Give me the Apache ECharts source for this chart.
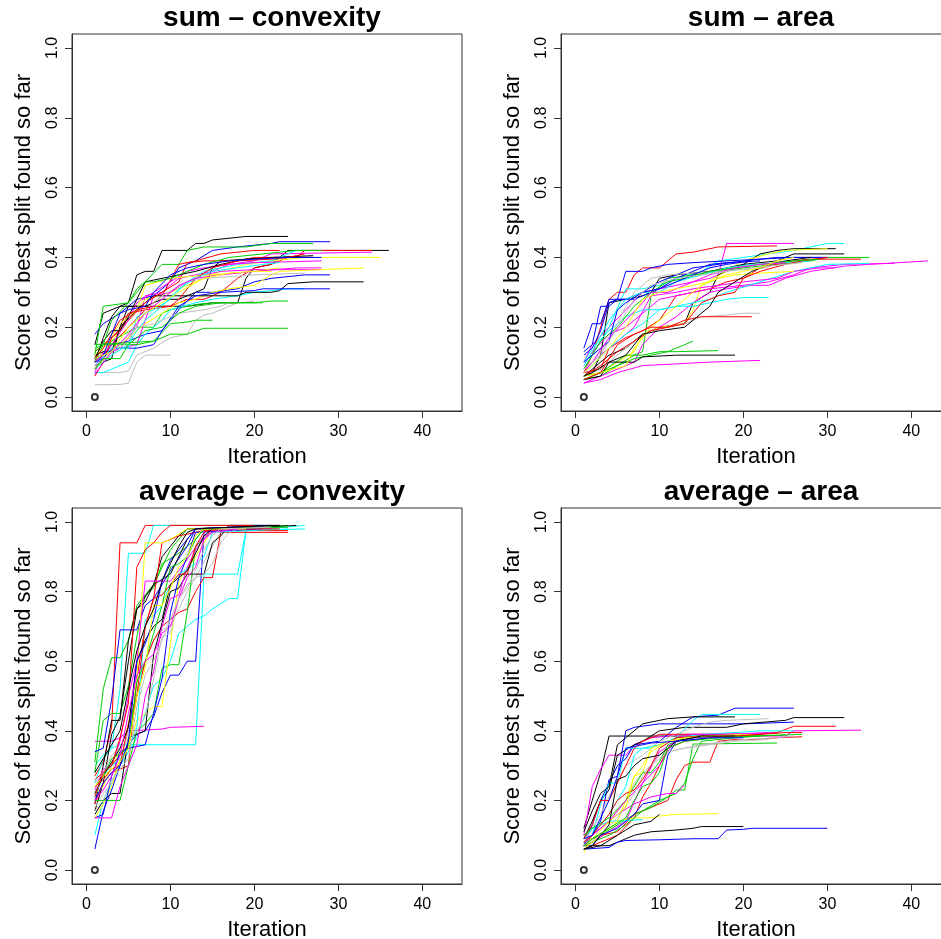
<!DOCTYPE html>
<html>
<head>
<meta charset="utf-8">
<script src="https://cdn.jsdelivr.net/npm/echarts@6/dist/echarts.min.js"></script>
<style>
html,body{margin:0;padding:0;background:#fff;}
#chart{width:941px;height:939px;}
</style>
</head>
<body>
<div id="chart"></div>
<script>
// ---------- Data (iteration, score) pairs at the vertices of each run ----------
const panelTitles = ["sum \u2013 convexity", "sum \u2013 area", "average \u2013 convexity", "average \u2013 area"];
const xTicks = [0, 10, 20, 30, 40];
const yTicks = [0, 0.2, 0.4, 0.6, 0.8, 1.0];
const startPoint = [1, 0];

const sumConvexityColors = "kbgkrmyakrgbcmyakrgbcmyakrgbcmyagg";
const sumConvexityRuns = [
  [1,0.15, 2,0.24, 5,0.27, 6,0.35, 7,0.36, 8,0.36, 9,0.42, 12,0.42, 13,0.44, 14,0.44, 15,0.45, 19,0.46, 24,0.46],
  [1,0.18, 2,0.21, 4,0.24, 6,0.28, 8,0.29, 10,0.33, 11,0.37, 13,0.39, 15,0.42, 18,0.43, 22,0.44, 23,0.445, 29,0.445],
  [1,0.12, 2,0.26, 5,0.27, 6,0.31, 7,0.33, 9,0.38, 11,0.38, 12,0.42, 14,0.43, 19,0.43, 22,0.44, 27,0.44],
  [1,0.09, 3,0.11, 4,0.2, 5,0.26, 9,0.26, 12,0.26, 15,0.27, 18,0.27, 19,0.34, 20,0.37, 22,0.38, 23,0.4, 24,0.42, 36,0.42],
  [1,0.08, 3,0.15, 5,0.2, 7,0.25, 10,0.26, 12,0.28, 14,0.28, 16,0.3, 18,0.34, 20,0.37, 22,0.38, 24,0.4, 25,0.4, 26,0.42, 34,0.42],
  [1,0.07, 2,0.13, 4,0.14, 6,0.2, 7,0.29, 9,0.3, 11,0.34, 15,0.36, 17,0.38, 20,0.39, 22,0.41, 34,0.415],
  [1,0.1, 3,0.16, 5,0.22, 7,0.28, 10,0.3, 13,0.33, 16,0.36, 19,0.38, 22,0.39, 26,0.4, 35,0.4],
  [1,0.07, 4,0.07, 5,0.075, 6,0.12, 8,0.14, 10,0.17, 12,0.18, 13,0.22, 14,0.235, 15,0.24, 17,0.26, 18,0.27, 20,0.275],
  [1,0.1, 2,0.17, 3,0.23, 4,0.26, 7,0.26, 9,0.28, 11,0.28, 13,0.3, 14,0.31, 15,0.37, 16,0.39, 22,0.4, 27,0.405],
  [1,0.13, 2,0.15, 4,0.19, 5,0.24, 7,0.25, 9,0.29, 11,0.38, 13,0.39, 16,0.41, 20,0.42, 23,0.42],
  [1,0.14, 3,0.16, 6,0.2, 8,0.2, 9,0.24, 10,0.25, 13,0.265, 15,0.27, 20,0.27, 22,0.275, 24,0.275],
  [1,0.1, 2,0.12, 3,0.15, 5,0.16, 7,0.18, 9,0.19, 11,0.25, 13,0.3, 15,0.3, 18,0.31, 20,0.33, 22,0.34, 26,0.35, 29,0.35],
  [1,0.07, 2,0.07, 3,0.08, 5,0.1, 6,0.15, 7,0.18, 8,0.2, 9,0.22, 10,0.25, 13,0.27, 15,0.28, 18,0.29, 20,0.3, 24,0.31, 26,0.31],
  [1,0.09, 2,0.12, 4,0.14, 6,0.15, 7,0.22, 8,0.29, 10,0.3, 12,0.33, 14,0.35, 16,0.36, 20,0.365, 28,0.365],
  [1,0.08, 3,0.13, 5,0.17, 7,0.21, 9,0.24, 11,0.27, 13,0.28, 15,0.3, 17,0.31, 20,0.32, 22,0.35, 23,0.36, 33,0.37],
  [1,0.035, 4,0.036, 5,0.04, 6,0.1, 7,0.12, 10,0.12],
  [1,0.12, 2,0.13, 3,0.13, 4,0.2, 6,0.25, 8,0.29, 18,0.29, 19,0.3, 22,0.3, 23,0.305, 24,0.325, 27,0.33, 33,0.33],
  [1,0.06, 2,0.1, 3,0.17, 5,0.22, 7,0.27, 9,0.3, 11,0.33, 12,0.385, 14,0.39, 18,0.39, 20,0.4, 24,0.4, 26,0.41],
  [1,0.1, 2,0.15, 6,0.15, 8,0.16, 10,0.21, 12,0.215, 13,0.22, 15,0.22],
  [1,0.1, 2,0.11, 3,0.14, 6,0.14, 8,0.15, 9,0.19, 11,0.26, 13,0.29, 16,0.3, 20,0.305, 21,0.31, 29,0.31],
  [1,0.09, 3,0.14, 5,0.14, 6,0.23, 8,0.25, 10,0.28, 12,0.33, 14,0.36, 16,0.37, 18,0.38, 22,0.39, 25,0.42, 26,0.42],
  [1,0.1, 3,0.15, 5,0.22, 6,0.27, 8,0.3, 10,0.33, 12,0.36, 14,0.37, 17,0.38, 20,0.385, 28,0.39],
  [1,0.12, 2,0.14, 4,0.21, 6,0.25, 7,0.32, 10,0.34, 12,0.345, 15,0.35, 20,0.36, 23,0.37],
  [1,0.09, 3,0.12, 5,0.16, 7,0.25, 9,0.29, 12,0.33, 14,0.34, 17,0.345, 20,0.35, 26,0.355],
  [1,0.11, 2,0.16, 3,0.19, 4,0.19, 5,0.23, 7,0.33, 9,0.34, 11,0.35, 13,0.36, 16,0.38, 19,0.395, 23,0.4, 27,0.4],
  [1,0.11, 2,0.14, 4,0.22, 6,0.25, 8,0.26, 10,0.26, 11,0.28, 13,0.34, 15,0.37, 18,0.39, 22,0.395, 24,0.4],
  [1,0.13, 2,0.15, 3,0.22, 5,0.27, 7,0.33, 8,0.33, 10,0.34, 12,0.36, 14,0.38, 17,0.4, 21,0.41, 25,0.42, 28,0.42],
  [1,0.11, 2,0.12, 4,0.24, 5,0.25, 7,0.26, 8,0.3, 10,0.35, 12,0.37, 14,0.38, 17,0.39, 20,0.395, 24,0.4, 28,0.4],
  [1,0.08, 3,0.12, 5,0.15, 6,0.19, 7,0.22, 9,0.26, 11,0.31, 13,0.34, 15,0.36, 18,0.37, 21,0.38, 23,0.385],
  [1,0.065, 3,0.13, 5,0.18, 7,0.24, 9,0.28, 11,0.32, 13,0.34, 16,0.35, 20,0.36, 25,0.37, 28,0.37],
  [1,0.11, 3,0.13, 5,0.2, 7,0.24, 9,0.27, 11,0.3, 14,0.34, 17,0.355, 20,0.36, 22,0.36],
  [1,0.08, 2,0.11, 4,0.15, 6,0.2, 8,0.21, 9,0.22, 11,0.24, 14,0.25, 16,0.26, 17,0.27],
  [1,0.08, 2,0.11, 4,0.11, 5,0.15, 7,0.19, 9,0.2, 11,0.24, 13,0.26, 16,0.27, 21,0.27],
  [1,0.15, 8,0.16, 10,0.18, 12,0.18, 14,0.197, 24,0.197]
];

const sumAreaColors = "mrckykgrbmmcmcarggkmbbyackrgbmay";
const sumAreaRuns = [
  [1,0.1, 2,0.15, 4,0.2, 6,0.25, 8,0.3, 10,0.31, 12,0.32, 14,0.33, 16,0.34, 17,0.35, 18,0.44, 26,0.44],
  [1,0.07, 2,0.12, 4,0.28, 5,0.3, 6,0.3, 7,0.35, 8,0.37, 10,0.37, 12,0.41, 14,0.415, 15,0.42, 17,0.43, 24,0.433],
  [1,0.08, 2,0.12, 4,0.2, 6,0.31, 8,0.31, 10,0.32, 12,0.34, 15,0.36, 17,0.39, 20,0.4, 23,0.41, 26,0.42, 28,0.43, 30,0.44, 32,0.44],
  [1,0.06, 2,0.08, 4,0.12, 6,0.14, 8,0.18, 10,0.2, 13,0.21, 14,0.27, 16,0.3, 17,0.35, 18,0.36, 20,0.38, 22,0.41, 24,0.42, 26,0.425, 31,0.425],
  [1,0.05, 3,0.07, 5,0.1, 7,0.13, 8,0.18, 10,0.2, 13,0.21, 14,0.25, 15,0.32, 18,0.36, 20,0.39, 23,0.41, 25,0.42, 30,0.425],
  [1,0.06, 2,0.07, 3,0.12, 4,0.27, 6,0.28, 8,0.29, 9,0.3, 10,0.34, 12,0.35, 16,0.36, 20,0.38, 24,0.39, 26,0.41, 32,0.41],
  [1,0.05, 3,0.06, 5,0.09, 7,0.12, 8,0.13, 9,0.29, 11,0.34, 14,0.35, 17,0.36, 20,0.37, 24,0.38, 28,0.39, 30,0.4, 35,0.4],
  [1,0.07, 3,0.08, 4,0.14, 6,0.17, 8,0.19, 10,0.22, 12,0.29, 14,0.3, 16,0.31, 18,0.33, 20,0.34, 22,0.37, 24,0.38, 26,0.39, 28,0.395, 34,0.395],
  [1,0.14, 2,0.21, 3,0.21, 4,0.28, 6,0.28, 7,0.29, 8,0.3, 10,0.33, 12,0.35, 14,0.37, 17,0.38, 20,0.39, 24,0.4, 30,0.4],
  [1,0.04, 3,0.06, 5,0.08, 7,0.1, 8,0.15, 10,0.2, 12,0.23, 14,0.27, 16,0.3, 18,0.31, 21,0.32, 23,0.32, 25,0.34, 28,0.36, 32,0.375, 35,0.38, 42,0.39],
  [1,0.09, 2,0.13, 4,0.18, 6,0.2, 8,0.24, 10,0.28, 12,0.29, 14,0.3, 16,0.31, 20,0.32, 23,0.33, 26,0.35, 28,0.37, 32,0.38, 38,0.383],
  [1,0.1, 2,0.14, 4,0.19, 6,0.23, 8,0.25, 10,0.25, 12,0.26, 14,0.27, 16,0.28, 18,0.3, 22,0.33, 26,0.36, 28,0.37, 30,0.38, 35,0.383],
  [1,0.08, 3,0.12, 5,0.16, 7,0.2, 9,0.29, 12,0.3, 14,0.31, 17,0.32, 20,0.33, 24,0.34, 26,0.36, 29,0.37, 31,0.37],
  [1,0.07, 2,0.09, 4,0.14, 6,0.18, 8,0.21, 10,0.25, 12,0.26, 14,0.26, 16,0.27, 18,0.28, 20,0.285, 23,0.285],
  [1,0.06, 3,0.08, 5,0.12, 7,0.16, 9,0.19, 11,0.2, 13,0.21, 15,0.23, 18,0.235, 20,0.24, 22,0.24],
  [1,0.06, 3,0.09, 5,0.13, 7,0.16, 9,0.19, 11,0.2, 13,0.22, 15,0.23, 21,0.23],
  [1,0.05, 3,0.07, 5,0.09, 7,0.11, 9,0.12, 11,0.13, 13,0.15, 14,0.16],
  [1,0.06, 3,0.07, 6,0.12, 8,0.12, 10,0.13, 12,0.13, 17,0.133],
  [1,0.05, 3,0.06, 4,0.1, 7,0.1, 8,0.115, 12,0.12, 19,0.12],
  [1,0.04, 3,0.05, 5,0.07, 8,0.09, 12,0.095, 16,0.1, 22,0.105],
  [1,0.13, 2,0.15, 3,0.26, 4,0.26, 5,0.28, 6,0.36, 8,0.36, 9,0.37, 11,0.38, 14,0.385, 18,0.39, 22,0.395, 26,0.4, 30,0.4],
  [1,0.12, 2,0.14, 3,0.19, 4,0.27, 5,0.28, 7,0.28, 8,0.29, 10,0.31, 12,0.34, 14,0.36, 16,0.38, 18,0.385, 22,0.39],
  [1,0.06, 3,0.07, 6,0.09, 7,0.14, 9,0.2, 11,0.24, 13,0.28, 15,0.32, 17,0.34, 19,0.35, 22,0.355, 26,0.36],
  [1,0.07, 2,0.1, 4,0.16, 6,0.26, 7,0.3, 9,0.34, 11,0.35, 14,0.355, 17,0.36, 20,0.365, 23,0.37],
  [1,0.09, 2,0.13, 4,0.22, 6,0.28, 8,0.3, 10,0.3, 12,0.33, 15,0.35, 18,0.37, 21,0.38, 25,0.385, 28,0.39],
  [1,0.06, 2,0.07, 4,0.1, 6,0.12, 8,0.18, 10,0.19, 13,0.2, 14,0.22, 16,0.26, 17,0.3, 19,0.33, 21,0.36, 23,0.38, 25,0.39, 28,0.4],
  [1,0.05, 3,0.07, 5,0.15, 7,0.18, 9,0.2, 11,0.2, 13,0.21, 15,0.27, 17,0.29, 19,0.3, 20,0.34, 22,0.36, 25,0.38, 27,0.39, 30,0.4],
  [1,0.08, 3,0.16, 5,0.2, 7,0.26, 9,0.3, 11,0.33, 13,0.34, 16,0.36, 19,0.37, 22,0.38, 26,0.39, 29,0.395],
  [1,0.1, 2,0.12, 4,0.16, 5,0.25, 6,0.27, 8,0.3, 10,0.31, 12,0.33, 14,0.35, 16,0.37, 18,0.38, 21,0.39],
  [1,0.07, 2,0.1, 4,0.17, 6,0.22, 8,0.27, 9,0.3, 11,0.3, 13,0.32, 16,0.35, 19,0.37, 22,0.38, 25,0.385],
  [1,0.08, 3,0.12, 5,0.2, 7,0.28, 9,0.32, 12,0.34, 15,0.35, 18,0.36, 21,0.37, 25,0.38, 27,0.385],
  [1,0.07, 2,0.09, 4,0.14, 6,0.2, 8,0.28, 10,0.3, 12,0.31, 14,0.32, 16,0.33, 18,0.35, 20,0.36, 22,0.37, 24,0.39, 26,0.4]
];

const averageConvexityColors = "rcccmbggkbkrymargykbmcarkgbymark";
const averageConvexityRuns = [
  [1,0.27, 2,0.31, 3,0.41, 4,0.94, 6,0.94, 7,0.99, 23,0.99],
  [1,0.3, 2,0.33, 3,0.35, 4,0.52, 5,0.91, 7,0.91, 8,0.99, 22,0.99],
  [1,0.25, 2,0.32, 3,0.35, 4,0.36, 13,0.36, 14,0.85, 18,0.85, 19,0.975, 26,0.98],
  [1,0.1, 2,0.2, 4,0.3, 6,0.38, 7,0.45, 8,0.53, 9,0.55, 10,0.6, 11,0.68, 13,0.72, 14,0.73, 15,0.75, 17,0.78, 18,0.78, 19,0.975, 26,0.99],
  [1,0.37, 3,0.37, 4,0.38, 5,0.4, 9,0.405, 10,0.41, 14,0.413],
  [1,0.06, 2,0.17, 3,0.23, 4,0.3, 5,0.36, 6,0.39, 7,0.4, 8,0.44, 9,0.51, 10,0.56, 11,0.56, 12,0.6, 13,0.6, 14,0.97, 15,0.98, 20,0.98],
  [1,0.31, 2,0.52, 3,0.61, 4,0.61, 5,0.66, 6,0.76, 7,0.79, 8,0.81, 9,0.88, 11,0.91, 13,0.95, 14,0.98, 22,0.99],
  [1,0.28, 2,0.43, 3,0.45, 4,0.45, 5,0.53, 6,0.67, 7,0.79, 8,0.82, 10,0.92, 12,0.98, 24,0.99],
  [1,0.19, 2,0.3, 3,0.43, 4,0.43, 5,0.66, 6,0.75, 7,0.77, 8,0.82, 9,0.9, 10,0.93, 11,0.96, 12,0.98, 23,0.99],
  [1,0.34, 2,0.35, 3,0.49, 4,0.69, 6,0.69, 7,0.76, 8,0.78, 10,0.86, 12,0.93, 13,0.98, 23,0.99],
  [1,0.17, 2,0.25, 3,0.39, 4,0.44, 5,0.6, 6,0.75, 8,0.82, 10,0.85, 12,0.95, 13,0.98, 17,0.98, 25,0.99],
  [1,0.19, 2,0.25, 3,0.28, 5,0.3, 6,0.55, 7,0.7, 8,0.78, 9,0.94, 11,0.96, 14,0.975, 24,0.975],
  [1,0.22, 2,0.24, 3,0.3, 4,0.34, 5,0.42, 6,0.55, 7,0.94, 9,0.94, 10,0.95, 12,0.98, 20,0.98],
  [1,0.23, 2,0.29, 3,0.3, 4,0.37, 5,0.5, 6,0.6, 7,0.83, 10,0.83, 11,0.86, 14,0.96, 16,0.98, 22,0.98],
  [1,0.18, 2,0.22, 3,0.25, 4,0.31, 5,0.4, 6,0.5, 7,0.6, 8,0.66, 9,0.69, 10,0.7, 11,0.75, 12,0.8, 13,0.84, 15,0.93, 16,0.97, 17,0.98, 20,0.98],
  [1,0.26, 2,0.28, 3,0.3, 4,0.33, 5,0.36, 6,0.5, 7,0.6, 8,0.66, 9,0.7, 10,0.72, 11,0.74, 12,0.75, 13,0.8, 14,0.84, 15,0.84, 16,0.97, 24,0.97],
  [1,0.2, 4,0.2, 5,0.3, 6,0.4, 7,0.42, 8,0.45, 9,0.58, 10,0.59, 11,0.59, 12,0.74, 13,0.93, 14,0.95, 15,0.98, 23,0.99],
  [1,0.15, 2,0.19, 3,0.24, 4,0.32, 5,0.35, 6,0.43, 7,0.45, 8,0.47, 9,0.47, 10,0.65, 11,0.83, 13,0.9, 15,0.98, 22,0.99],
  [1,0.16, 2,0.2, 3,0.22, 4,0.22, 5,0.38, 6,0.39, 7,0.4, 8,0.62, 9,0.71, 10,0.8, 11,0.81, 12,0.85, 14,0.85, 15,0.94, 16,0.96, 17,0.99, 23,0.99],
  [1,0.15, 2,0.16, 3,0.27, 4,0.34, 5,0.35, 7,0.36, 8,0.45, 9,0.55, 10,0.74, 11,0.84, 12,0.9, 13,0.97, 21,0.98],
  [1,0.15, 3,0.15, 4,0.24, 5,0.3, 6,0.36, 7,0.5, 8,0.57, 9,0.7, 10,0.78, 11,0.79, 12,0.87, 13,0.92, 14,0.95, 15,0.98, 21,0.98],
  [1,0.21, 2,0.27, 3,0.3, 4,0.32, 5,0.35, 6,0.41, 7,0.72, 8,0.73, 9,0.76, 10,0.82, 11,0.85, 13,0.88, 14,0.9, 15,0.97, 24,0.98],
  [1,0.25, 2,0.28, 3,0.33, 4,0.35, 5,0.37, 6,0.4, 7,0.44, 8,0.55, 9,0.67, 10,0.68, 11,0.78, 12,0.82, 13,0.84, 14,0.85, 15,0.88, 16,0.94, 17,0.97, 18,0.98],
  [1,0.24, 2,0.26, 3,0.29, 4,0.3, 5,0.42, 6,0.5, 7,0.7, 8,0.78, 9,0.79, 10,0.82, 11,0.85, 12,0.85, 13,0.93, 14,0.97, 15,0.98, 23,0.98],
  [1,0.22, 2,0.27, 3,0.31, 4,0.35, 5,0.41, 6,0.6, 7,0.66, 8,0.7, 9,0.72, 10,0.82, 11,0.84, 12,0.86, 13,0.91, 14,0.96, 15,0.98, 21,0.985],
  [1,0.24, 2,0.27, 3,0.32, 5,0.35, 6,0.54, 7,0.6, 8,0.68, 9,0.76, 10,0.87, 11,0.88, 12,0.9, 13,0.95, 14,0.98, 24,0.985],
  [1,0.2, 2,0.25, 3,0.28, 4,0.3, 5,0.37, 6,0.6, 7,0.65, 8,0.72, 9,0.83, 10,0.89, 11,0.92, 12,0.95, 13,0.98, 22,0.99],
  [1,0.24, 2,0.27, 3,0.29, 4,0.31, 5,0.35, 6,0.5, 7,0.58, 8,0.76, 9,0.76, 10,0.81, 11,0.87, 12,0.9, 13,0.96, 14,0.98, 19,0.98],
  [1,0.2, 2,0.23, 3,0.27, 4,0.33, 5,0.45, 6,0.56, 7,0.6, 8,0.62, 9,0.68, 10,0.7, 11,0.78, 12,0.84, 13,0.87, 14,0.95, 15,0.97, 18,0.98],
  [1,0.17, 2,0.2, 3,0.26, 4,0.29, 5,0.32, 6,0.47, 7,0.56, 8,0.6, 9,0.66, 10,0.72, 11,0.78, 12,0.81, 13,0.86, 14,0.92, 15,0.96, 16,0.98, 22,0.985],
  [1,0.21, 2,0.28, 3,0.3, 4,0.38, 5,0.48, 6,0.87, 7,0.92, 8,0.94, 9,0.97, 10,0.99, 20,0.99],
  [1,0.28, 2,0.32, 3,0.36, 4,0.4, 5,0.52, 6,0.63, 7,0.7, 8,0.75, 9,0.83, 10,0.88, 11,0.93, 12,0.97, 13,0.98, 22,0.99]
];

const averageAreaColors = "kmbbkcakrmrgkbykcgayrgbcmmarykgb";
const averageAreaRuns = [
  [1,0.12, 2,0.2, 3,0.28, 4,0.385, 8,0.385, 20,0.385],
  [1,0.1, 2,0.24, 3,0.29, 4,0.33, 6,0.33, 7,0.36, 9,0.38, 13,0.39, 19,0.39, 24,0.395],
  [1,0.08, 2,0.1, 3,0.14, 4,0.26, 5,0.27, 6,0.4, 7,0.41, 10,0.42, 20,0.42, 26,0.425],
  [1,0.07, 2,0.13, 3,0.2, 4,0.25, 5,0.3, 6,0.32, 7,0.36, 10,0.37, 12,0.41, 14,0.44, 17,0.445, 19,0.465, 26,0.465],
  [1,0.09, 2,0.14, 3,0.2, 4,0.23, 5,0.33, 7,0.36, 8,0.37, 10,0.4, 13,0.41, 18,0.41, 20,0.42, 25,0.43, 26,0.438, 32,0.438],
  [1,0.07, 2,0.1, 3,0.19, 4,0.25, 5,0.25, 6,0.35, 9,0.35, 10,0.36, 12,0.38, 14,0.43, 15,0.447, 22,0.447],
  [1,0.08, 2,0.12, 3,0.16, 5,0.26, 6,0.3, 8,0.33, 10,0.37, 12,0.39, 14,0.41, 16,0.425, 18,0.43, 23,0.435],
  [1,0.11, 2,0.17, 3,0.22, 4,0.24, 5,0.36, 6,0.38, 8,0.42, 10,0.43, 11,0.435, 14,0.44, 19,0.44],
  [1,0.06, 3,0.08, 5,0.1, 7,0.15, 8,0.21, 9,0.25, 10,0.3, 11,0.35, 13,0.37, 16,0.38, 20,0.385, 24,0.395, 26,0.413, 31,0.413],
  [1,0.06, 2,0.08, 4,0.11, 6,0.14, 8,0.25, 10,0.34, 12,0.37, 14,0.38, 18,0.38, 22,0.385, 25,0.385, 26,0.4, 34,0.402],
  [1,0.07, 2,0.09, 3,0.1, 5,0.11, 7,0.16, 9,0.18, 11,0.2, 12,0.26, 13,0.3, 14,0.31, 16,0.31, 17,0.37, 19,0.375, 21,0.375, 24,0.38, 27,0.383],
  [1,0.08, 3,0.1, 5,0.13, 7,0.16, 9,0.18, 11,0.21, 12,0.23, 13,0.23, 14,0.362, 24,0.365],
  [1,0.07, 4,0.07, 5,0.08, 6,0.09, 7,0.1, 9,0.11, 12,0.115, 14,0.12, 15,0.125, 20,0.125],
  [1,0.06, 4,0.065, 5,0.08, 6,0.085, 10,0.087, 14,0.09, 17,0.09, 18,0.115, 20,0.117, 21,0.12, 30,0.12],
  [1,0.05, 2,0.1, 3,0.13, 5,0.14, 7,0.15, 9,0.15, 10,0.155, 12,0.16, 17,0.162],
  [1,0.06, 3,0.07, 5,0.1, 7,0.13, 8,0.135, 9,0.14, 10,0.16],
  [1,0.09, 2,0.12, 4,0.14, 8,0.145],
  [1,0.07, 2,0.08, 4,0.1, 6,0.13, 8,0.17, 10,0.2, 11,0.21, 12,0.22, 13,0.25, 14,0.32, 15,0.37, 19,0.38, 22,0.385, 27,0.39],
  [1,0.08, 2,0.1, 4,0.14, 6,0.2, 7,0.25, 8,0.28, 9,0.3, 10,0.33, 11,0.34, 13,0.35, 16,0.36, 19,0.37, 23,0.375],
  [1,0.06, 3,0.1, 5,0.14, 6,0.2, 7,0.27, 8,0.3, 9,0.34, 11,0.37, 14,0.38, 18,0.385, 21,0.39],
  [1,0.09, 2,0.13, 3,0.2, 4,0.2, 5,0.25, 6,0.3, 7,0.35, 8,0.37, 10,0.39, 13,0.39, 20,0.39],
  [1,0.1, 2,0.12, 4,0.15, 6,0.2, 8,0.28, 9,0.28, 10,0.31, 11,0.36, 13,0.38, 16,0.385, 20,0.385, 25,0.388],
  [1,0.06, 2,0.07, 3,0.1, 5,0.12, 7,0.16, 8,0.19, 10,0.2, 11,0.33, 12,0.37, 14,0.38, 17,0.385, 20,0.39],
  [1,0.08, 2,0.1, 4,0.16, 6,0.24, 7,0.33, 8,0.35, 10,0.36, 12,0.38, 15,0.39, 19,0.395, 22,0.4, 26,0.4],
  [1,0.07, 2,0.1, 4,0.14, 6,0.2, 8,0.25, 10,0.3, 12,0.38, 14,0.39, 17,0.39, 20,0.392, 23,0.395],
  [1,0.08, 3,0.12, 5,0.16, 7,0.19, 9,0.21, 11,0.22, 12,0.22, 13,0.245],
  [1,0.07, 3,0.1, 5,0.15, 7,0.22, 8,0.27, 9,0.3, 11,0.34, 13,0.35, 15,0.36, 18,0.37, 20,0.375, 24,0.38, 26,0.385],
  [1,0.08, 2,0.1, 4,0.16, 5,0.2, 6,0.22, 7,0.23, 8,0.26, 9,0.3, 10,0.35, 12,0.38, 15,0.385, 19,0.385, 25,0.395, 27,0.395],
  [1,0.07, 2,0.09, 4,0.14, 6,0.18, 7,0.27, 8,0.28, 9,0.35, 11,0.37, 13,0.38, 16,0.385, 20,0.39],
  [1,0.06, 2,0.07, 3,0.1, 4,0.13, 5,0.26, 6,0.27, 7,0.3, 8,0.32, 10,0.33, 12,0.37, 15,0.385, 19,0.385],
  [1,0.07, 2,0.09, 4,0.12, 6,0.15, 7,0.2, 8,0.24, 9,0.25, 10,0.28, 11,0.35, 13,0.37, 17,0.38, 22,0.385],
  [1,0.09, 2,0.1, 3,0.15, 4,0.2, 5,0.27, 6,0.35, 8,0.36, 9,0.365, 12,0.37, 16,0.38, 20,0.38]
];

// ---------- Rendering ----------
const palette = {k:'#000000', r:'#FF0000', g:'#00CD00', b:'#0000FF', c:'#00FFFF', m:'#FF00FF', y:'#FFFF00', a:'#BEBEBE'};
const panelRuns = [sumConvexityRuns, sumAreaRuns, averageConvexityRuns, averageAreaRuns];
const panelColors = [sumConvexityColors, sumAreaColors, averageConvexityColors, averageAreaColors];

const FONT = '"Liberation Sans", Arial, Helvetica, sans-serif';
const X_MIN = -1.72, X_MAX = 44.72, Y_MIN = -0.04, Y_MAX = 1.04;
const gridBoxes = [
  {left: 72, top: 34, width: 390, height: 377},
  {left: 561, top: 34, width: 390, height: 377},
  {left: 72, top: 508, width: 390, height: 376},
  {left: 561, top: 508, width: 390, height: 376}
];

const grids = [], xAxes = [], yAxes = [], titles = [], series = [];
gridBoxes.forEach((g, i) => {
  grids.push({left: g.left, top: g.top, width: g.width, height: g.height, show: true,
    borderColor: '#333', borderWidth: 1, backgroundColor: 'transparent',
    containLabel: false, outerBoundsMode: 'none'});
  titles.push({text: panelTitles[i], left: g.left + 195, top: g.top - 35, textAlign: 'center',
    textStyle: {fontFamily: FONT, fontSize: 28, fontWeight: 'bold', color: '#000'}});
  xAxes.push({type: 'value', gridIndex: i, min: X_MIN, max: X_MAX, position: 'bottom',
    axisLine: {show: true, onZero: false, lineStyle: {color: '#333', width: 1}}, splitLine: {show: false},
    axisTick: {show: true, inside: false, length: 7, customValues: xTicks, lineStyle: {color: '#333', width: 1}},
    axisLabel: {show: true, customValues: xTicks, margin: 13, fontFamily: FONT, fontSize: 16, color: '#000'},
    name: 'Iteration', nameLocation: 'middle', nameGap: 35,
    nameTextStyle: {fontFamily: FONT, fontSize: 22, color: '#000'}});
  yAxes.push({type: 'value', gridIndex: i, min: Y_MIN, max: Y_MAX, position: 'left',
    axisLine: {show: true, onZero: false, lineStyle: {color: '#333', width: 1}}, splitLine: {show: false},
    axisTick: {show: true, inside: false, length: 7, customValues: yTicks, lineStyle: {color: '#333', width: 1}},
    axisLabel: {show: true, customValues: yTicks, rotate: 90, margin: 11, fontFamily: FONT, fontSize: 16, color: '#000',
      formatter: v => v.toFixed(1)},
    name: 'Score of best split found so far', nameLocation: 'middle', nameGap: 37,
    nameTextStyle: {fontFamily: FONT, fontSize: 22, color: '#000'}});
  series.push({type: 'scatter', xAxisIndex: i, yAxisIndex: i, data: [startPoint],
    symbol: 'emptyCircle', symbolSize: 6, itemStyle: {color: '#000', borderColor: '#000', borderWidth: 0.8},
    silent: true, z: 3});
  panelRuns[i].forEach((run, j) => {
    const pts = [];
    for (let k = 0; k < run.length; k += 2) pts.push([run[k], run[k + 1]]);
    series.push({type: 'line', xAxisIndex: i, yAxisIndex: i, data: pts, showSymbol: false, symbol: 'none',
      lineStyle: {width: 1, color: palette[panelColors[i][j]]}, itemStyle: {color: palette[panelColors[i][j]]},
      silent: true, z: 2});
  });
});

const chart = echarts.init(document.getElementById('chart'), null, {renderer: 'canvas'});
chart.setOption({
  animation: false,
  backgroundColor: '#fff',
  title: titles,
  grid: grids,
  xAxis: xAxes,
  yAxis: yAxes,
  series: series
});
</script>
</body>
</html>
